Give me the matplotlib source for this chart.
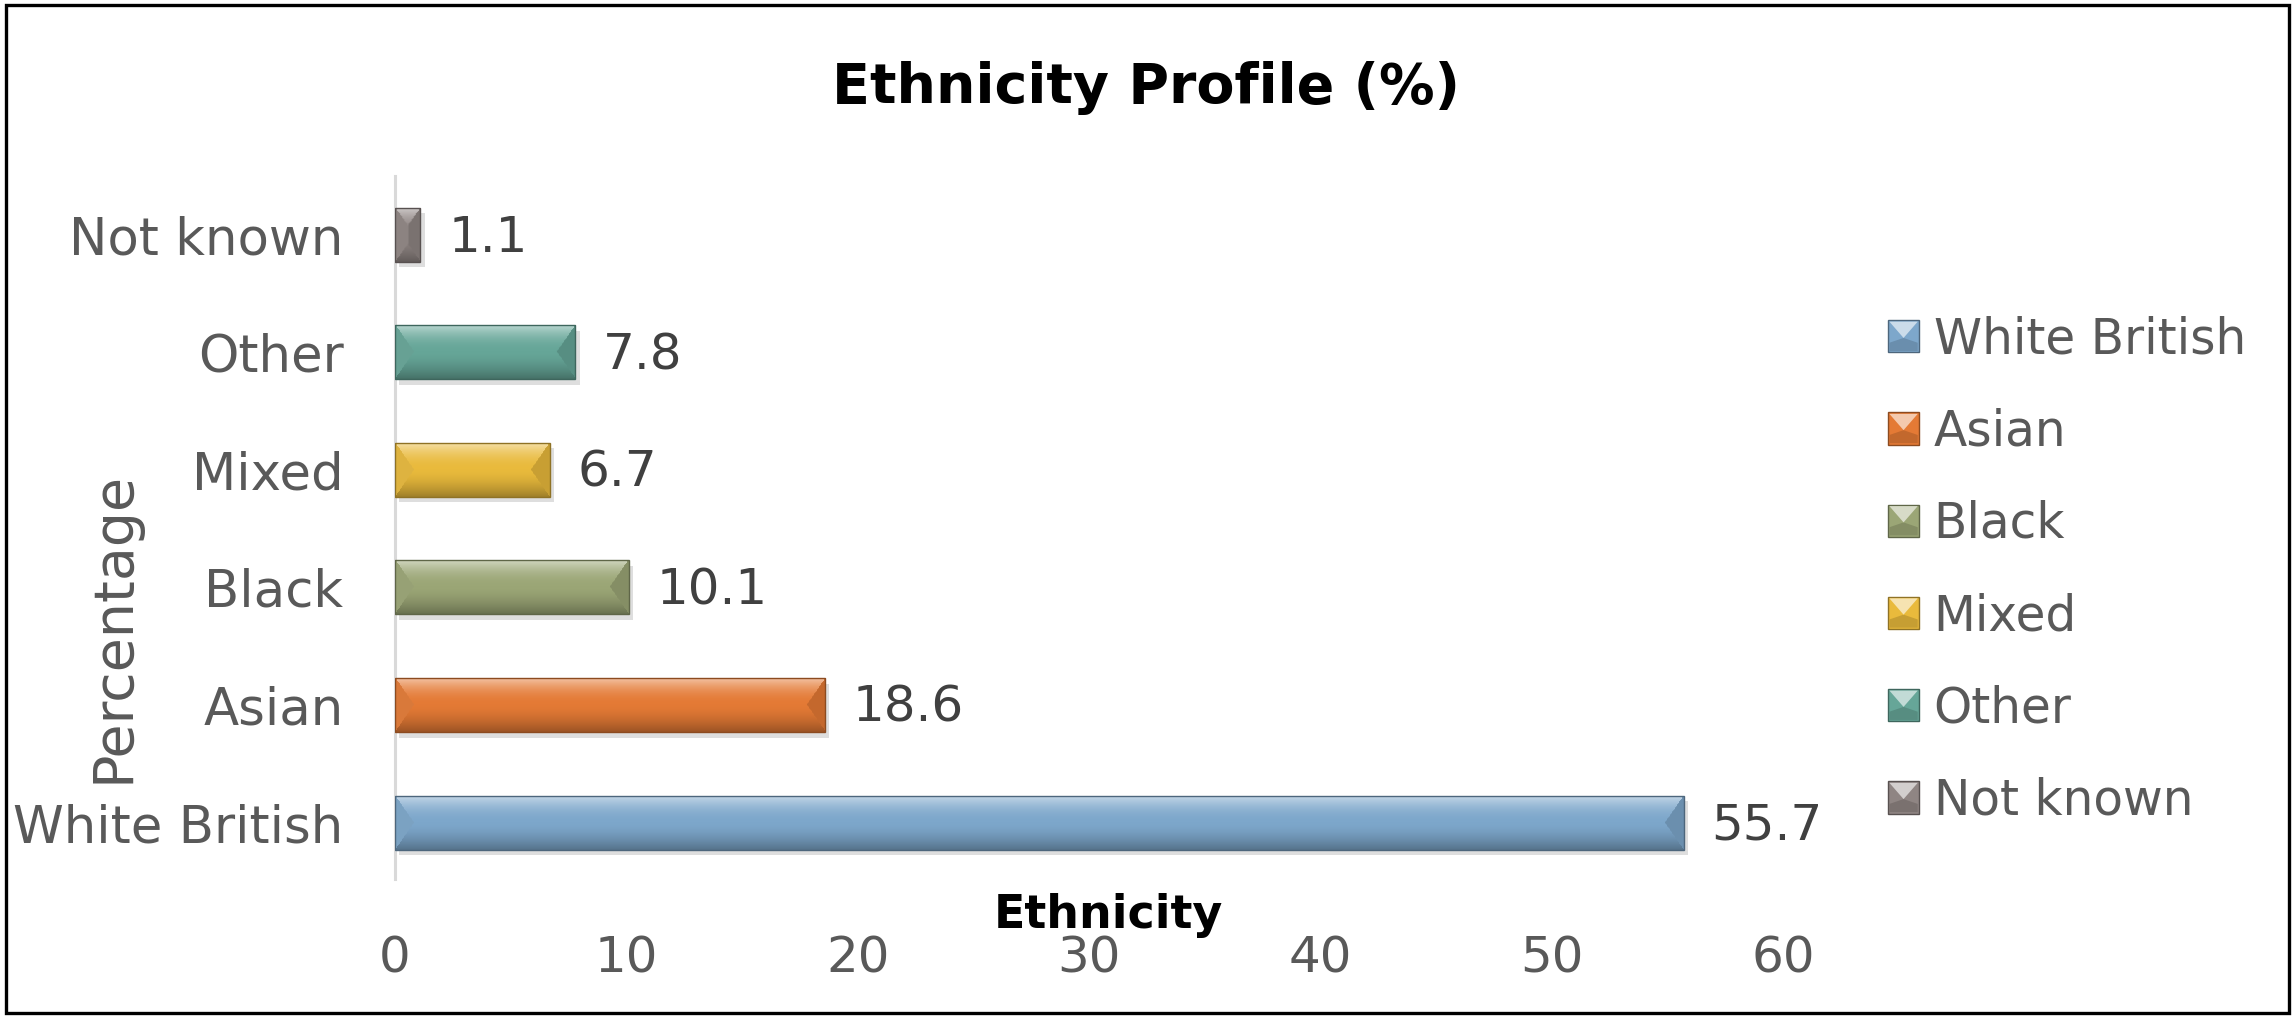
import numpy as np
import matplotlib
matplotlib.use('Agg')
import matplotlib.pyplot as plt
from matplotlib.patches import Rectangle, Patch, Polygon
from matplotlib.legend_handler import HandlerBase
from matplotlib import patheffects as pe
from matplotlib.colors import to_rgb

# ---------------- data ----------------
categories = ['White British', 'Asian', 'Black', 'Mixed', 'Other', 'Not known']
values = [55.7, 18.6, 10.1, 6.7, 7.8, 1.1]
bar_colors = ['#7DA7CB', '#E47A35', '#9BA676', '#E9BA3C', '#66A698', '#8F8583']
xticks = [0, 10, 20, 30, 40, 50, 60]
title = 'Ethnicity Profile (%)'
xlabel = 'Ethnicity'
ylabel = 'Percentage'

# ---------------- figure ----------------
W, H, DPI = 2296, 1022, 100
plt.rcParams['font.family'] = ['DejaVu Sans']
fig = plt.figure(figsize=(W / DPI, H / DPI), dpi=DPI)
fig.patch.set_facecolor('white')

ax_left, ax_right, ax_top, ax_bottom = 395, 1783, 176, 879
ax = fig.add_axes([ax_left / W, 1 - ax_bottom / H,
                   (ax_right - ax_left) / W, (ax_bottom - ax_top) / H])

XMAX = 60
YLIM = (-0.48, 5.5)
bar_h = 0.46
ypos = np.arange(len(categories))
px_x = (ax_right - ax_left) / XMAX
px_y = (ax_bottom - ax_top) / (YLIM[1] - YLIM[0])

TXT = '#595959'


def shades(color):
    base = np.array(to_rgb(color))
    return base, base + (1 - base) * 0.6, base * 0.68


def bevel_img(color, wpx, hpx, bev=19):
    base, light, dark = shades(color)
    r = (np.arange(hpx) + 0.5)[:, None] * np.ones((1, wpx))
    c = np.ones((hpx, 1)) * (np.arange(wpx) + 0.5)[None, :]
    t = r / hpx
    up = t < 0.5
    s = np.where(up, (0.5 - t) / 0.5, (t - 0.5) / 0.5)
    wl = np.where(up, s ** 2.0, 0.0)
    wd = np.where(up, 0.0, s ** 1.6)
    img = (base[None, None, :] * (1 - wl - wd)[..., None]
           + light[None, None, :] * wl[..., None]
           + dark[None, None, :] * wd[..., None])
    half = hpx / 2
    dv = np.minimum(r, hpx - r) / half
    dl = c / bev
    dr = (wpx - c) / bev
    left = (dl < dv) & (dl <= dr)
    right = (dr < dv) & (dr < dl)
    img[left] = base * 0.95 + (1 - base) * 0.04
    img[right] = base * 0.86
    return np.clip(img, 0, 1)


bars = ax.barh(ypos, values, height=bar_h, color=bar_colors, edgecolor='none',
               zorder=2)
for b in bars:
    b.set_path_effects([pe.SimplePatchShadow(offset=(3, -4), shadow_rgbFace=(0, 0, 0),
                                             alpha=0.13), pe.Normal()])

for b, v, col in zip(bars, values, bar_colors):
    y0 = b.get_y()
    hh = b.get_height()
    wpx = max(2, int(round(v * px_x)))
    hpx = max(2, int(round(hh * px_y)))
    img = bevel_img(col, wpx, hpx)
    im = ax.imshow(img, extent=(0, v, y0, y0 + hh), origin='upper', aspect='auto',
                   interpolation='bilinear', zorder=3)
    im.set_clip_path(b)
    ax.add_patch(Rectangle((0, y0), v, hh, fill=False,
                           edgecolor=tuple(shades(col)[2] * 0.9),
                           lw=1.0, zorder=4))

# data labels
for yy, v in zip(ypos, values):
    ax.annotate(f'{v}', xy=(v, yy), xytext=(20, -2), textcoords='offset points',
                ha='left', va='center', fontsize=36, color='#404040')

ax.set_xlim(0, XMAX)
ax.set_ylim(*YLIM)
ax.set_xticks(xticks)
ax.set_xticklabels([str(x) for x in xticks])
ax.set_yticks(ypos)
ax.set_yticklabels(categories)
ax.tick_params(axis='x', length=0, pad=40, labelsize=36, labelcolor=TXT)
ax.tick_params(axis='y', length=0, pad=37, labelsize=37, labelcolor=TXT)
for s in ['top', 'right', 'bottom']:
    ax.spines[s].set_visible(False)
ax.spines['left'].set_color('#D9D9D9')
ax.spines['left'].set_linewidth(2.2)
ax.set_facecolor('none')

# titles / labels
fig.text(1146 / W, 1 - 88 / H, title, ha='center', va='center', fontsize=40,
         fontweight='bold', color='black')
fig.text(1108 / W, 1 - 915 / H, xlabel, ha='center', va='center', fontsize=33,
         fontweight='bold', color='black')
fig.text(114 / W, 1 - 627 / H, ylabel, ha='center', va='center', fontsize=40,
         rotation=90, color=TXT)


# legend with bevelled square markers
class BevelHandler(HandlerBase):
    def create_artists(self, legend, orig_handle, xdescent, ydescent, width,
                       height, fontsize, trans):
        col = orig_handle.get_facecolor()
        base, light, dark = shades(col[:3])
        x0, y0 = -xdescent, -ydescent
        sq = Rectangle((x0, y0), width, height, facecolor=base,
                       edgecolor=tuple(dark * 0.9), lw=1.0, transform=trans)
        tri = Polygon([(x0 + 1, y0 + height - 1), (x0 + width - 1, y0 + height - 1),
                       (x0 + width / 2, y0 + height * 0.45)], closed=True,
                      facecolor=tuple(light), edgecolor='none', transform=trans)
        bot = Polygon([(x0 + 1, y0 + 1), (x0 + width - 1, y0 + 1),
                       (x0 + width - 1, y0 + height * 0.3), (x0 + width / 2, y0 + height * 0.45),
                       (x0 + 1, y0 + height * 0.3)], closed=True,
                      facecolor=tuple(base * 0.85), edgecolor='none', transform=trans)
        return [sq, bot, tri]


handles = [Patch(facecolor=c) for c in bar_colors]
fig.legend(handles, categories, loc='center left',
           bbox_to_anchor=(1888 / W, 1 - 570 / H), frameon=False, borderpad=0,
           borderaxespad=0, fontsize=35, labelcolor=TXT, handlelength=0.64,
           handleheight=0.64, handletextpad=0.3, labelspacing=0.91,
           handler_map={Patch: BevelHandler()})

# outer border
fig.add_artist(Rectangle((5.5 / W, 1 - 1013 / H), (2289 - 5.5) / W, (1013 - 5.5) / H,
                         transform=fig.transFigure, fill=False, edgecolor='black',
                         lw=2.4))

fig.savefig('out.png', dpi=DPI)
